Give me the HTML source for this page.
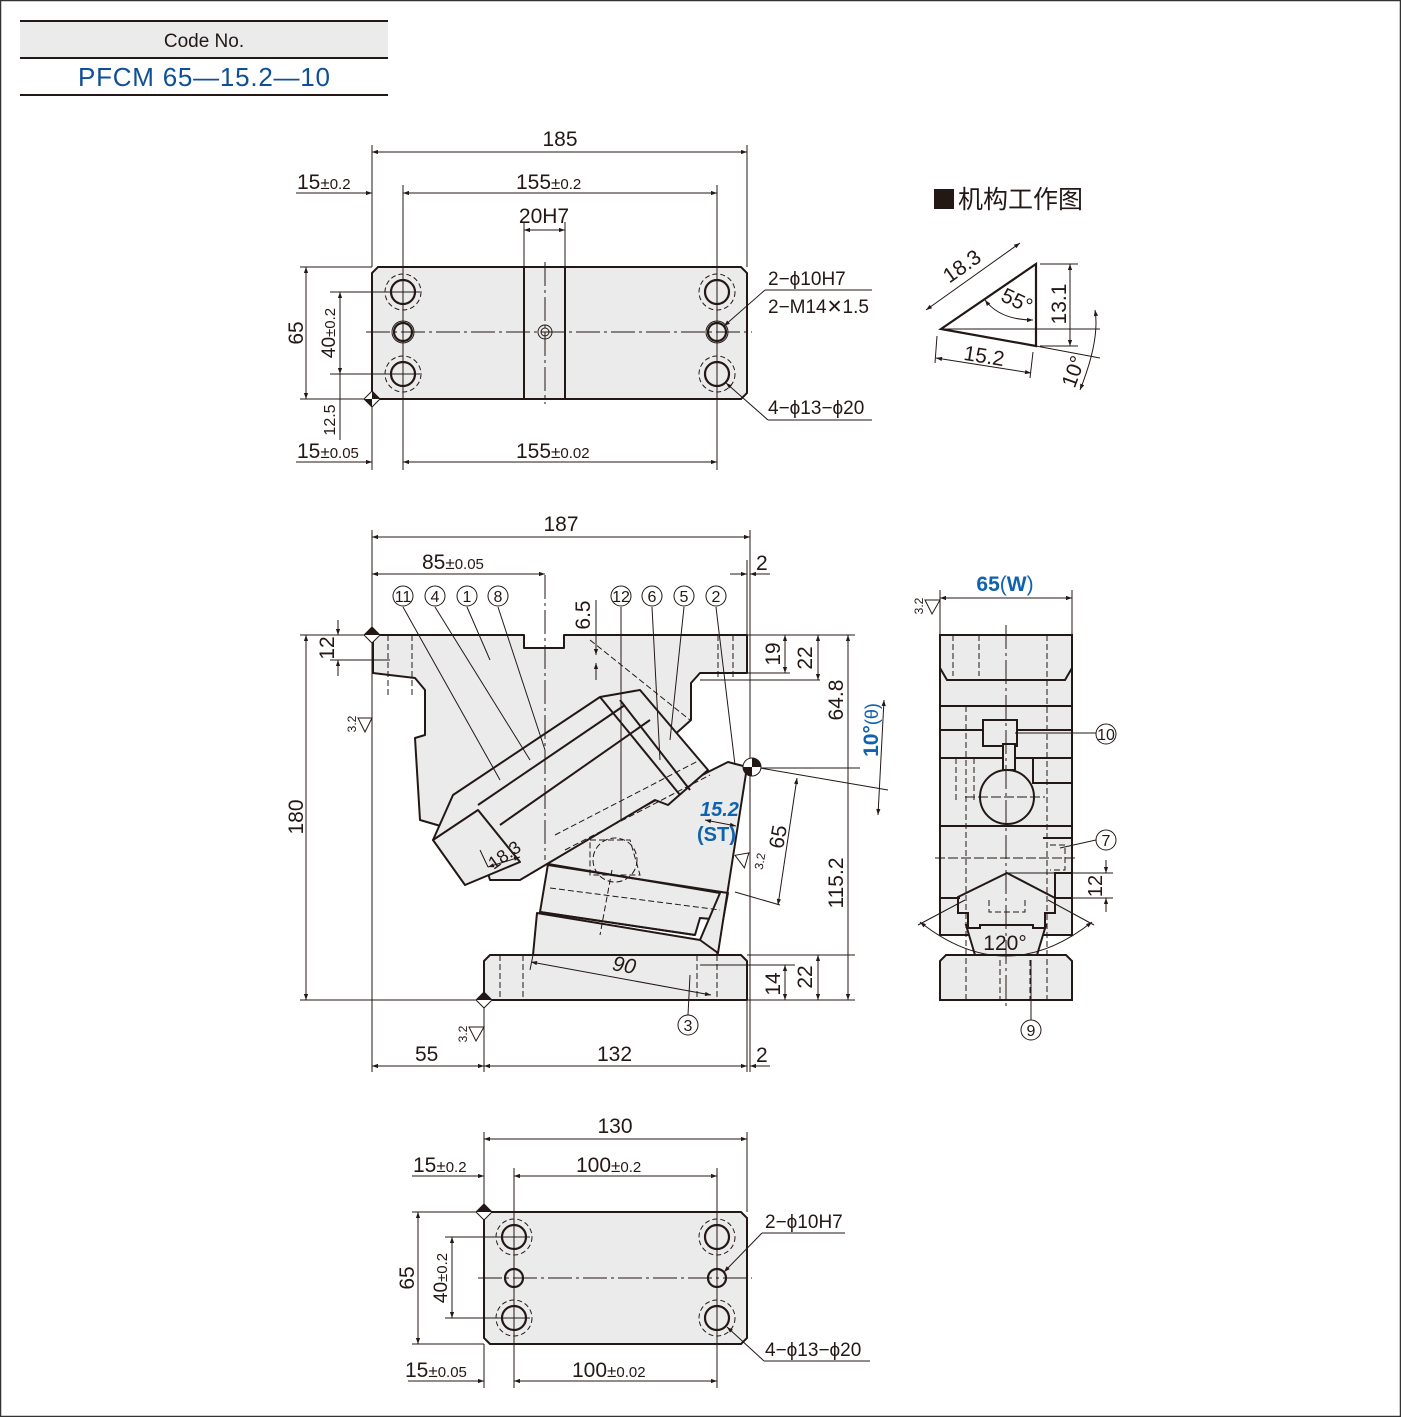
<!DOCTYPE html>
<html><head><meta charset="utf-8"><style>
body{margin:0;background:#fff}
svg{display:block}
text{font-family:"Liberation Sans","Noto Sans CJK SC",sans-serif;fill:#231815}
</style></head><body>
<svg width="1401" height="1417" viewBox="0 0 1401 1417" xmlns="http://www.w3.org/2000/svg">
<defs>
<marker id="a" viewBox="0 0 10 10" refX="10" refY="5" markerWidth="9" markerHeight="6" orient="auto-start-reverse"><path d="M0,1.5L10,5L0,8.5z" fill="#231815"/></marker>
</defs>
<rect x="0.5" y="0.5" width="1400" height="1416" fill="#fff" stroke="#333" stroke-width="1.5"/>
<!-- header table -->
<rect x="20" y="21" width="368" height="36" fill="#ebebeb"/>
<line x1="20" y1="21" x2="388" y2="21" stroke="#231815" stroke-width="2"/>
<line x1="20" y1="58" x2="388" y2="58" stroke="#231815" stroke-width="2"/>
<line x1="20" y1="95" x2="388" y2="95" stroke="#231815" stroke-width="2"/>
<text x="204" y="47" font-size="19" text-anchor="middle">Code No.</text>
<text x="78" y="86" font-size="26" textLength="252" style="fill:#0f4f98">PFCM 65—15.2—10</text>

<g stroke="#231815" fill="none" stroke-width="1">
<!-- ===== TOP VIEW ===== -->
<path d="M378,267H741L747,273V393L741,399H378L372,393V273Z" fill="#ebebeb" stroke-width="2"/>
<line x1="524" y1="267" x2="524" y2="399" stroke-width="2"/><line x1="565" y1="267" x2="565" y2="399" stroke-width="2"/>
<g stroke-width="2.2"><circle cx="403" cy="292" r="12"/><circle cx="403" cy="374" r="12"/><circle cx="717" cy="292" r="12"/><circle cx="717" cy="374" r="12"/><circle cx="403" cy="332" r="9"/><circle cx="717" cy="332" r="9"/></g>
<g stroke-dasharray="5,3"><circle cx="403" cy="292" r="18"/><circle cx="403" cy="374" r="18"/><circle cx="717" cy="292" r="18"/><circle cx="717" cy="374" r="18"/></g>
<circle cx="403" cy="332" r="11"/><circle cx="717" cy="332" r="11"/><circle cx="545" cy="332" r="7"/><circle cx="545" cy="332" r="4"/>
<line x1="366" y1="332" x2="752" y2="332" stroke-dasharray="24,4,3,4"/>
<line x1="545" y1="262" x2="545" y2="404" stroke-dasharray="24,4,3,4"/>
<line x1="372" y1="145" x2="372" y2="267"/><line x1="747" y1="145" x2="747" y2="267"/>
<line x1="372" y1="152" x2="747" y2="152" marker-start="url(#a)" marker-end="url(#a)"/>
<line x1="403" y1="185" x2="403" y2="470"/><line x1="717" y1="185" x2="717" y2="470"/>
<line x1="296" y1="193" x2="372" y2="193" marker-end="url(#a)"/>
<line x1="403" y1="193" x2="717" y2="193" marker-start="url(#a)" marker-end="url(#a)"/>
<line x1="524" y1="222" x2="524" y2="267"/><line x1="565" y1="222" x2="565" y2="267"/>
<line x1="524" y1="230" x2="565" y2="230" marker-start="url(#a)" marker-end="url(#a)"/>
<line x1="372" y1="400" x2="372" y2="470"/>
<line x1="296" y1="462" x2="372" y2="462" marker-end="url(#a)"/>
<line x1="403" y1="462" x2="717" y2="462" marker-start="url(#a)" marker-end="url(#a)"/>
<line x1="300" y1="267" x2="372" y2="267"/><line x1="300" y1="399" x2="372" y2="399"/>
<line x1="306" y1="267" x2="306" y2="399" marker-start="url(#a)" marker-end="url(#a)"/>
<line x1="330" y1="292" x2="420" y2="292"/><line x1="330" y1="374" x2="420" y2="374"/>
<line x1="340" y1="292" x2="340" y2="374" marker-start="url(#a)" marker-end="url(#a)"/>
<line x1="340" y1="374" x2="340" y2="440"/>
<line x1="330" y1="399" x2="340" y2="399"/>
<line x1="724" y1="326" x2="765" y2="290" marker-start="url(#a)"/><line x1="765" y1="290" x2="872" y2="290"/>
<line x1="726" y1="383" x2="768" y2="420" marker-start="url(#a)"/><line x1="768" y1="420" x2="872" y2="420"/>
</g>
<path d="M372,391L380,399L372,407L364,399Z" fill="#fff" stroke="#231815"/><path d="M372,391L380,399L372,399Z M372,399L364,399L372,407Z" fill="#231815"/>
<g font-size="21">
<text x="560" y="146" text-anchor="middle">185</text>
<text x="297" y="189">15<tspan font-size="17">±</tspan><tspan font-size="15">0.2</tspan></text>
<text x="516" y="189">155<tspan font-size="17">±</tspan><tspan font-size="15">0.2</tspan></text>
<text x="544" y="223" text-anchor="middle">20H7</text>
<text x="297" y="458">15<tspan font-size="17">±</tspan><tspan font-size="15">0.05</tspan></text>
<text x="516" y="458">155<tspan font-size="17">±</tspan><tspan font-size="15">0.02</tspan></text>
<text transform="translate(303,333) rotate(-90)" text-anchor="middle">65</text>
<text transform="translate(335,333) rotate(-90)" text-anchor="middle" font-size="19">40<tspan font-size="15">±0.2</tspan></text>
<text transform="translate(335,420) rotate(-90)" text-anchor="middle" font-size="16">12.5</text>
<text x="768" y="285" font-size="19">2−ϕ10H7</text>
<text x="768" y="313" font-size="19">2−M14✕1.5</text>
<text x="768" y="414" font-size="19">4−ϕ13−ϕ20</text>
</g>

<!-- ===== mechanism diagram ===== -->
<rect x="934" y="189" width="20" height="20" fill="#231815"/>
<text x="958" y="208" font-size="25">机构工作图</text>
<g stroke="#231815" fill="none">
<path d="M941,329L1036,264V346Z" stroke-width="2.2"/>
<line x1="941" y1="329" x2="1100" y2="329" stroke-width="1"/>
<line x1="926" y1="310" x2="1020" y2="243" marker-start="url(#a)" marker-end="url(#a)"/>
<line x1="1040" y1="264" x2="1078" y2="264"/><line x1="1040" y1="346" x2="1078" y2="346"/>
<line x1="1070" y1="264" x2="1070" y2="346" marker-start="url(#a)" marker-end="url(#a)"/>
<line x1="937" y1="336" x2="935" y2="363"/><line x1="1033" y1="352" x2="1030" y2="378"/>
<line x1="936" y1="358" x2="1031" y2="373" marker-start="url(#a)" marker-end="url(#a)"/>
<path d="M985,300Q1000,320 1033,320" marker-start="url(#a)" marker-end="url(#a)"/>
<line x1="1036" y1="346" x2="1100" y2="358"/>
<path d="M1095,310Q1100,340 1080,390" marker-start="url(#a)" marker-end="url(#a)"/>
</g>
<g font-size="21">
<text transform="translate(966,272) rotate(-35)" text-anchor="middle">18.3</text>
<text transform="translate(1014,307) rotate(25)" text-anchor="middle">55°</text>
<text transform="translate(1066,304) rotate(-90)" text-anchor="middle">13.1</text>
<text transform="translate(983,363) rotate(9)" text-anchor="middle">15.2</text>
<text transform="translate(1080,374) rotate(-70)" text-anchor="middle">10°</text>
</g>

<!-- ===== FRONT VIEW ===== -->
<g stroke="#231815" stroke-width="2" fill="#ebebeb" stroke-linejoin="round">
<path d="M490,955H741L747,961V1000H484V961Z"/>
<path d="M537,913L533,955H718L712,940L700,940Z"/>
<path d="M548,864L728,893L723,920L700,918L695,935L540,912Z"/>
<path d="M373,635H524V648H564V635H747V673H700L691,683V720L540,855L420,820L415,738L425,735V690L415,678L373,673Z"/>
<path d="M708,772L728,762L747,767L718,953L700,940L720,893L548,864L548,858Z"/>
<path d="M453,795L600,697L640,690L708,770L668,805L655,800L520,880L490,880L478,840L465,852L458,830L433,840Z"/>
<path d="M433,840L478,810L520,862L465,885Z"/>
</g>
<g stroke="#231815" fill="none" stroke-width="2">
<line x1="478" y1="805" x2="625" y2="705"/><line x1="500" y1="825" x2="650" y2="720"/>
<line x1="600" y1="697" x2="680" y2="795"/><line x1="620" y1="700" x2="690" y2="790"/>
<line x1="548" y1="865" x2="728" y2="893"/>
<line x1="540" y1="912" x2="695" y2="935"/>
</g>
<g stroke="#231815" fill="none" stroke-width="1" stroke-dasharray="6,3">
<line x1="388" y1="635" x2="388" y2="695"/><line x1="412" y1="635" x2="412" y2="695"/>
<line x1="718" y1="635" x2="718" y2="680"/><line x1="733" y1="635" x2="733" y2="680"/>
<line x1="500" y1="955" x2="500" y2="1000"/><line x1="523" y1="955" x2="523" y2="1000"/>
<line x1="697" y1="955" x2="697" y2="1000"/><line x1="717" y1="955" x2="717" y2="1000"/>
<line x1="555" y1="835" x2="700" y2="760"/><line x1="565" y1="850" x2="710" y2="775"/>
<line x1="550" y1="888" x2="720" y2="910"/>
<line x1="590" y1="640" x2="690" y2="720"/>
<circle cx="615" cy="860" r="22"/><path d="M590,840H630L640,875H590Z"/>
<line x1="612" y1="870" x2="600" y2="935"/>
</g>
<g stroke="#231815" fill="none" stroke-width="1">
<line x1="545" y1="575" x2="545" y2="860" stroke-dasharray="24,4,3,4"/>
<line x1="372" y1="530" x2="372" y2="1072"/><line x1="750" y1="530" x2="750" y2="1072"/>
<line x1="747" y1="560" x2="747" y2="635"/><line x1="747" y1="1000" x2="747" y2="1072"/>
<line x1="372" y1="537" x2="750" y2="537" marker-start="url(#a)" marker-end="url(#a)"/>
<line x1="372" y1="574" x2="545" y2="574" marker-start="url(#a)" marker-end="url(#a)"/>
<line x1="730" y1="574" x2="747" y2="574" marker-end="url(#a)"/><line x1="750" y1="574" x2="770" y2="574" marker-start="url(#a)"/>
<line x1="484" y1="1000" x2="484" y2="1072"/>
<line x1="372" y1="1066" x2="484" y2="1066" marker-start="url(#a)" marker-end="url(#a)"/>
<line x1="484" y1="1066" x2="747" y2="1066" marker-start="url(#a)" marker-end="url(#a)"/>
<line x1="750" y1="1066" x2="770" y2="1066" marker-start="url(#a)"/>
<line x1="300" y1="635" x2="372" y2="635"/><line x1="300" y1="1000" x2="484" y2="1000"/>
<line x1="306" y1="635" x2="306" y2="1000" marker-start="url(#a)" marker-end="url(#a)"/>
<line x1="338" y1="620" x2="338" y2="635" marker-end="url(#a)"/><line x1="338" y1="660" x2="338" y2="676" marker-start="url(#a)"/>
<line x1="330" y1="660" x2="390" y2="660"/>
<line x1="747" y1="635" x2="855" y2="635"/><line x1="747" y1="673" x2="790" y2="673"/>
<line x1="700" y1="680" x2="820" y2="680"/>
<line x1="785" y1="635" x2="785" y2="673" marker-start="url(#a)" marker-end="url(#a)"/>
<line x1="818" y1="635" x2="818" y2="680" marker-start="url(#a)" marker-end="url(#a)"/>
<line x1="848" y1="635" x2="848" y2="1000" marker-start="url(#a)" marker-end="url(#a)"/>
<line x1="760" y1="768" x2="860" y2="768"/>
<line x1="760" y1="768" x2="888" y2="790"/>
<line x1="884" y1="700" x2="878" y2="815" marker-start="url(#a)" marker-end="url(#a)"/>
<line x1="747" y1="955" x2="855" y2="955"/><line x1="747" y1="1000" x2="855" y2="1000"/>
<line x1="700" y1="965" x2="795" y2="965"/>
<line x1="785" y1="965" x2="785" y2="1000" marker-start="url(#a)" marker-end="url(#a)"/>
<line x1="818" y1="955" x2="818" y2="1000" marker-start="url(#a)" marker-end="url(#a)"/>
<line x1="797" y1="778" x2="778" y2="905" marker-start="url(#a)" marker-end="url(#a)"/>
<line x1="735" y1="892" x2="780" y2="905"/>
<line x1="531" y1="962" x2="711" y2="995" marker-start="url(#a)" marker-end="url(#a)"/>
<line x1="533" y1="955" x2="530" y2="970"/>
<line x1="488" y1="867" x2="520" y2="857" marker-start="url(#a)" marker-end="url(#a)"/>
<line x1="488" y1="867" x2="480" y2="850"/>
<line x1="705" y1="820" x2="736" y2="826" marker-start="url(#a)" marker-end="url(#a)"/>
<line x1="596" y1="640" x2="596" y2="655" marker-end="url(#a)"/><line x1="596" y1="663" x2="596" y2="680" marker-start="url(#a)"/>
<line x1="596" y1="600" x2="596" y2="640"/>
<line x1="403" y1="607" x2="500" y2="780"/>
<line x1="435" y1="607" x2="530" y2="760"/>
<line x1="467" y1="607" x2="490" y2="660"/>
<line x1="498" y1="607" x2="545" y2="750"/>
<line x1="621" y1="607" x2="621" y2="820"/>
<line x1="652" y1="607" x2="660" y2="760"/>
<line x1="684" y1="607" x2="670" y2="740"/>
<line x1="716" y1="607" x2="735" y2="765"/>
<line x1="688" y1="1015" x2="690" y2="975"/>
<circle cx="403" cy="596" r="10"/><circle cx="435" cy="596" r="10"/><circle cx="467" cy="596" r="10"/><circle cx="498" cy="596" r="10"/>
<circle cx="621" cy="596" r="10"/><circle cx="652" cy="596" r="10"/><circle cx="684" cy="596" r="10"/><circle cx="716" cy="596" r="10"/>
<circle cx="688" cy="1025" r="10"/>
<path d="M358,718L372,718L365,732Z"/><path d="M469,1027L484,1027L476,1041Z"/><path d="M736,854L750,854L743,868Z" transform="rotate(-10 743 860)"/>
<path d="M925,600L940,600L932,614Z"/>
</g>
<path d="M372,627L380,635L372,643L364,635Z" fill="#fff" stroke="#231815"/><path d="M372,627L380,635H364Z" fill="#231815"/>
<path d="M484,992L492,1000L484,1008L476,1000Z" fill="#fff" stroke="#231815"/><path d="M484,992L492,1000H476Z" fill="#231815"/>
<circle cx="752" cy="767" r="9" fill="#fff" stroke="#231815"/><path d="M752,758A9,9 0 0 1 761,767H752Z M752,767H743A9,9 0 0 0 752,776Z" fill="#231815"/>
<g font-size="21">
<text x="561" y="531" text-anchor="middle">187</text>
<text x="422" y="569">85<tspan font-size="17">±</tspan><tspan font-size="15">0.05</tspan></text>
<text x="756" y="570">2</text>
<text x="415" y="1061">55</text><text x="597" y="1061">132</text><text x="756" y="1062">2</text>
<text transform="translate(303,817) rotate(-90)" text-anchor="middle">180</text>
<text transform="translate(334,648) rotate(-90)" text-anchor="middle">12</text>
<text transform="translate(590,615) rotate(-90)" text-anchor="middle">6.5</text>
<text transform="translate(780,654) rotate(-90)" text-anchor="middle">19</text>
<text transform="translate(812,658) rotate(-90)" text-anchor="middle">22</text>
<text transform="translate(843,700) rotate(-90)" text-anchor="middle">64.8</text>
<text transform="translate(843,883) rotate(-90)" text-anchor="middle">115.2</text>
<text transform="translate(780,984) rotate(-90)" text-anchor="middle">14</text>
<text transform="translate(812,977) rotate(-90)" text-anchor="middle">22</text>
<text transform="translate(785,838) rotate(-80)" text-anchor="middle">65</text>
<text transform="translate(878,730) rotate(-90)" text-anchor="middle" style="fill:#0f62ae;font-weight:bold">10°<tspan style="font-weight:normal" font-size="18">(θ)</tspan></text>
<text transform="translate(623,972) rotate(10)" text-anchor="middle" font-style="italic">90</text>
<text transform="translate(508,860) rotate(-35)" text-anchor="middle" font-size="18">18.3</text>
<text x="700" y="816" font-size="20" style="fill:#0f62ae;font-weight:bold;font-style:italic">15.2</text>
<text x="697" y="841" font-size="20" style="fill:#0f62ae;font-weight:bold">(ST)</text>
</g>
<g font-size="16" text-anchor="middle">
<text x="403" y="602">11</text><text x="435" y="602">4</text><text x="467" y="602">1</text><text x="498" y="602">8</text>
<text x="621" y="602">12</text><text x="652" y="602">6</text><text x="684" y="602">5</text><text x="716" y="602">2</text><text x="688" y="1031">3</text>
<text x="1106" y="740">10</text><text x="1106" y="846">7</text><text x="1031" y="1036">9</text>
</g>
<g font-size="12">
<text transform="translate(356,724) rotate(-90)" text-anchor="middle">3.2</text>
<text transform="translate(467,1034) rotate(-90)" text-anchor="middle">3.2</text>
<text transform="translate(923,606) rotate(-90)" text-anchor="middle">3.2</text>
<text transform="translate(764,862) rotate(-80)" text-anchor="middle">3.2</text>
</g>

<!-- ===== SIDE VIEW ===== -->
<g stroke="#231815" stroke-width="2" fill="#ebebeb">
<rect x="940" y="635" width="132" height="300"/>
<path d="M946,955H1066L1072,961V1000H940V961Z"/>
<path d="M966,925L975,955H1037L1046,925Z"/>
</g>
<g stroke="#231815" fill="none" stroke-width="2">
<path d="M940,668L947,680H1065L1072,668"/><line x1="940" y1="706" x2="1072" y2="706"/><line x1="940" y1="730" x2="1072" y2="730"/><line x1="940" y1="758" x2="1072" y2="758"/>
<line x1="940" y1="826" x2="1072" y2="826"/>
<circle cx="1007" cy="797" r="27" fill="#ebebeb"/>
<path d="M983,720H1017V746H983Z" fill="#ebebeb"/>
<path d="M1003,744H1015V770H1003Z" fill="#ebebeb"/>
<path d="M1033,758V783H1072"/>
<path d="M1043,838H1072V873H1055V898"/>
<path d="M958,897L1007,873L1055,898V913H1045V928H1033V925H980V928H968V913H958Z" fill="#ebebeb"/>
<line x1="940" y1="898" x2="960" y2="898"/><line x1="1055" y1="898" x2="1072" y2="898"/>
</g>
<g stroke="#231815" fill="none" stroke-width="1">
<line x1="1006" y1="625" x2="1006" y2="1010" stroke-dasharray="24,4,3,4"/>
<line x1="965" y1="797" x2="1045" y2="797" stroke-dasharray="10,3"/>
<line x1="935" y1="858" x2="1077" y2="858" stroke-dasharray="10,3"/>
<g stroke-dasharray="6,3">
<line x1="953" y1="635" x2="953" y2="676"/><line x1="979" y1="635" x2="979" y2="676"/>
<line x1="966" y1="706" x2="966" y2="1000"/><line x1="1047" y1="635" x2="1047" y2="1000"/>
<line x1="956" y1="758" x2="956" y2="800"/><line x1="974" y1="758" x2="974" y2="800"/>
<path d="M989,900V912H1025V900"/><line x1="1000" y1="960" x2="1000" y2="1000"/><line x1="1030" y1="960" x2="1030" y2="1000"/>
<path d="M1050,845H1065V870H1050"/>
</g>
<line x1="940" y1="590" x2="940" y2="635"/><line x1="1072" y1="590" x2="1072" y2="635"/>
<line x1="940" y1="598" x2="1072" y2="598" marker-start="url(#a)" marker-end="url(#a)"/>
<line x1="1015" y1="733" x2="1096" y2="733"/>
<line x1="1060" y1="848" x2="1096" y2="840"/>
<line x1="1007" y1="873" x2="1113" y2="873"/><line x1="1055" y1="898" x2="1113" y2="898"/>
<line x1="1106" y1="860" x2="1106" y2="873" marker-end="url(#a)"/><line x1="1106" y1="898" x2="1106" y2="912" marker-start="url(#a)"/>
<path d="M920,922Q1006,990 1092,922" marker-start="url(#a)" marker-end="url(#a)"/>
<line x1="918" y1="925" x2="965" y2="900"/><line x1="1094" y1="925" x2="1048" y2="900"/>
<line x1="1031" y1="960" x2="1031" y2="1020"/>
<circle cx="1106" cy="734" r="10"/><circle cx="1106" cy="840" r="10"/><circle cx="1031" cy="1030" r="10"/>
</g>
<text x="1005" y="591" font-size="21" text-anchor="middle" style="fill:#0f62ae;font-weight:bold">65<tspan font-weight="normal">(</tspan>W<tspan font-weight="normal">)</tspan></text>
<text x="1005" y="950" font-size="21" text-anchor="middle">120°</text>
<text transform="translate(1102,886) rotate(-90)" text-anchor="middle" font-size="20">12</text>

<!-- ===== BOTTOM VIEW ===== -->
<g stroke="#231815" fill="none" stroke-width="1">
<path d="M490,1212H741L747,1218V1338L741,1344H490L484,1338V1218Z" fill="#ebebeb" stroke-width="2"/>
<g stroke-width="2.2"><circle cx="514" cy="1237" r="12"/><circle cx="514" cy="1318" r="12"/><circle cx="717" cy="1237" r="12"/><circle cx="717" cy="1318" r="12"/><circle cx="514" cy="1278" r="9"/><circle cx="717" cy="1278" r="9"/></g>
<g stroke-dasharray="5,3"><circle cx="514" cy="1237" r="18"/><circle cx="514" cy="1318" r="18"/><circle cx="717" cy="1237" r="18"/><circle cx="717" cy="1318" r="18"/></g>
<line x1="478" y1="1278" x2="752" y2="1278" stroke-dasharray="24,4,3,4"/>
<line x1="484" y1="1132" x2="484" y2="1212"/><line x1="747" y1="1132" x2="747" y2="1212"/>
<line x1="484" y1="1139" x2="747" y2="1139" marker-start="url(#a)" marker-end="url(#a)"/>
<line x1="514" y1="1168" x2="514" y2="1388"/><line x1="717" y1="1168" x2="717" y2="1388"/>
<line x1="412" y1="1176" x2="484" y2="1176" marker-end="url(#a)"/>
<line x1="514" y1="1176" x2="717" y2="1176" marker-start="url(#a)" marker-end="url(#a)"/>
<line x1="484" y1="1344" x2="484" y2="1388"/>
<line x1="408" y1="1381" x2="484" y2="1381" marker-end="url(#a)"/>
<line x1="514" y1="1381" x2="717" y2="1381" marker-start="url(#a)" marker-end="url(#a)"/>
<line x1="412" y1="1212" x2="484" y2="1212"/><line x1="412" y1="1344" x2="484" y2="1344"/>
<line x1="418" y1="1212" x2="418" y2="1344" marker-start="url(#a)" marker-end="url(#a)"/>
<line x1="445" y1="1237" x2="530" y2="1237"/><line x1="445" y1="1318" x2="530" y2="1318"/>
<line x1="452" y1="1237" x2="452" y2="1318" marker-start="url(#a)" marker-end="url(#a)"/>
<line x1="724" y1="1272" x2="762" y2="1233" marker-start="url(#a)"/><line x1="762" y1="1233" x2="845" y2="1233"/>
<line x1="727" y1="1327" x2="764" y2="1361" marker-start="url(#a)"/><line x1="764" y1="1361" x2="870" y2="1361"/>
</g>
<path d="M484,1204L492,1212L484,1220L476,1212Z" fill="#fff" stroke="#231815"/><path d="M484,1204L492,1212H476Z" fill="#231815"/>
<g font-size="21">
<text x="615" y="1133" text-anchor="middle">130</text>
<text x="413" y="1172">15<tspan font-size="17">±</tspan><tspan font-size="15">0.2</tspan></text>
<text x="576" y="1172">100<tspan font-size="17">±</tspan><tspan font-size="15">0.2</tspan></text>
<text x="405" y="1377">15<tspan font-size="17">±</tspan><tspan font-size="15">0.05</tspan></text>
<text x="572" y="1377">100<tspan font-size="17">±</tspan><tspan font-size="15">0.02</tspan></text>
<text transform="translate(414,1278) rotate(-90)" text-anchor="middle">65</text>
<text transform="translate(447,1278) rotate(-90)" text-anchor="middle" font-size="19">40<tspan font-size="15">±0.2</tspan></text>
<text x="765" y="1228" font-size="19">2−ϕ10H7</text>
<text x="765" y="1356" font-size="19">4−ϕ13−ϕ20</text>
</g>
</svg>
</body></html>
